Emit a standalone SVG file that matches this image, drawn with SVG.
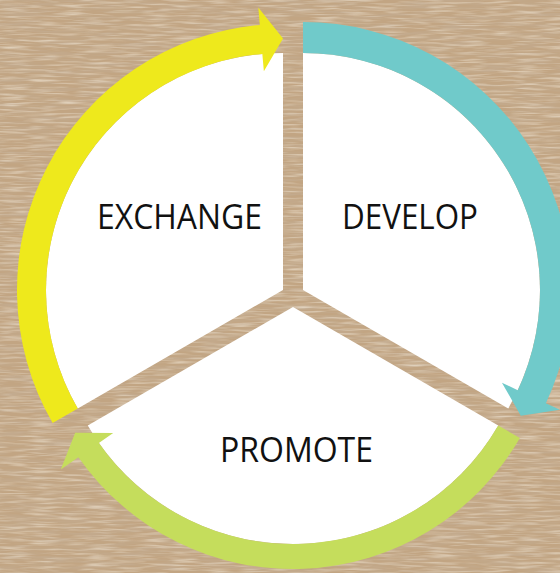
<svg xmlns="http://www.w3.org/2000/svg" width="560" height="573" viewBox="0 0 560 573">
  <style>
    .sector { fill: #ffffff; }
    .label { font-family: "Open Sans", "Liberation Sans", sans-serif; font-size: 34px; fill: #111111; text-anchor: middle; }
    .yellow { fill: #EEE91C; }
    .teal { fill: #70CACA; }
    .green { fill: #C5DD5C; }
  </style>
  <defs>
    <filter id="tex" x="0" y="0" width="100%" height="100%">
      <feTurbulence type="fractalNoise" baseFrequency="0.025 0.3" numOctaves="3" seed="7" result="n"/>
      <feColorMatrix in="n" type="matrix" values="0 0 0 0 0.55  0 0 0 0 0.43  0 0 0 0 0.31  1.5 0 0 0 -0.6"/>
    </filter>
    <filter id="tex2" x="0" y="0" width="100%" height="100%">
      <feTurbulence type="fractalNoise" baseFrequency="0.035 0.45" numOctaves="2" seed="21" result="n"/>
      <feColorMatrix in="n" type="matrix" values="0 0 0 0 0.88  0 0 0 0 0.80  0 0 0 0 0.68  1.4 0 0 0 -0.62"/>
    </filter>
  </defs>
  <g id="background">
    <rect width="560" height="573" fill="#C2A583"/>
    <rect width="560" height="573" filter="url(#tex)"/>
    <rect width="560" height="573" filter="url(#tex2)"/>
  </g>
  <g id="exchange">
    <path class="sector" d="M283,290 L77.75,408.5 A237,237 0 0 1 283,53 Z"/>
    <text class="label" x="179.5" y="229" textLength="165" lengthAdjust="spacingAndGlyphs">EXCHANGE</text>
  </g>
  <g id="develop">
    <path class="sector" d="M303,290 L303,53 A237,237 0 0 1 508.25,408.5 Z"/>
    <text class="label" x="410" y="229" textLength="136" lengthAdjust="spacingAndGlyphs">DEVELOP</text>
  </g>
  <g id="promote">
    <path class="sector" d="M293,307 L498.25,425.5 A237,237 0 0 1 87.75,425.5 Z"/>
    <text class="label" x="296.5" y="462" textLength="153" lengthAdjust="spacingAndGlyphs">PROMOTE</text>
  </g>
  <g id="connectors">
    <path class="yellow" d="M52.64,423 A266,266 0 0 1 259.82,25 L258.29,7.58 L283,38.5 L263.87,71.34 L262.34,53.9 A237,237 0 0 0 77.75,408.5 Z"/>
    <path class="teal" d="M303,22 A268,268 0 0 1 545.89,403.26 L559.94,409.81 L520.81,415.75 L501.93,382.77 L517.8,390.16 A237,237 0 0 0 303,53 Z"/>
    <path class="green" d="M519.9,438 A262,262 0 0 1 78.39,457.28 L60.77,469.61 L75.19,432.75 L113.2,432.9 L98.86,442.94 A237,237 0 0 0 498.25,425.5 Z"/>
  </g>
</svg>
